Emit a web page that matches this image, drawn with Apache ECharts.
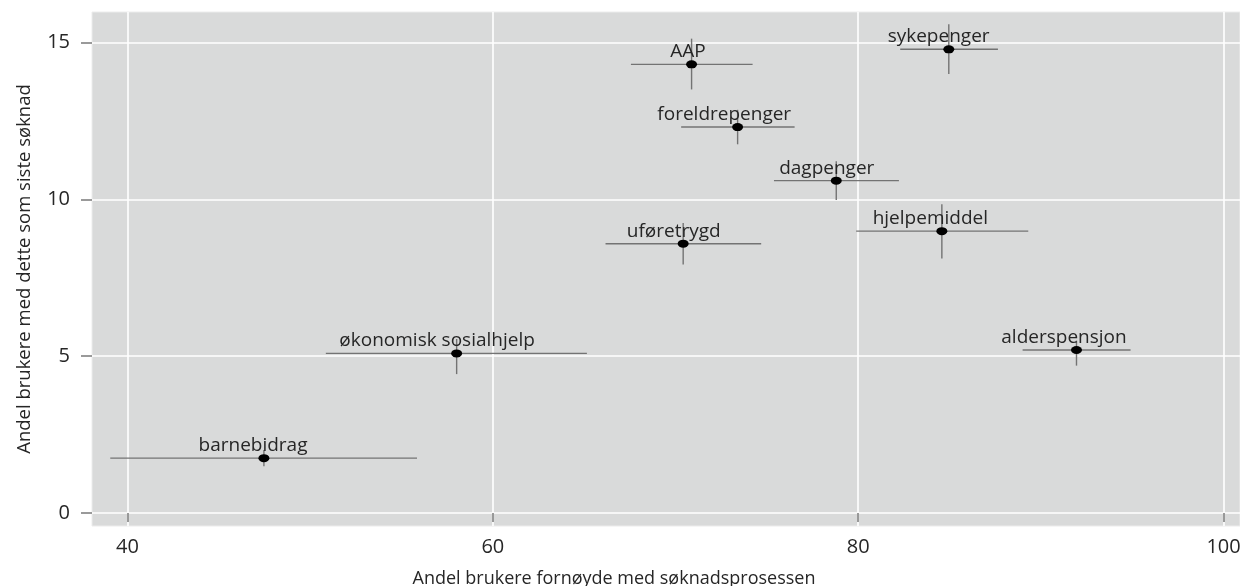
<!DOCTYPE html>
<html>
<head>
<meta charset="utf-8">
<script src="https://cdn.jsdelivr.net/npm/echarts@6/dist/echarts.min.js"></script>
<style>
html,body{margin:0;padding:0;background:#fff;}
#chart{width:1240px;height:586px;}
</style>
</head>
<body>
<div id="chart"></div>
<script>
// ---- data ----
const categories = ['AAP','sykepenger','foreldrepenger','dagpenger','hjelpemiddel','uføretrygd','økonomisk sosialhjelp','alderspensjon','barnebidrag'];
const satisfied     = [70.88, 84.96, 73.40, 78.80, 84.58, 70.42, 58.02, 91.95, 47.47];
const satisfiedLow  = [67.56, 82.30, 70.31, 75.39, 79.89, 66.17, 50.86, 89.00, 39.06];
const satisfiedHigh = [74.22, 87.65, 76.52, 82.23, 89.31, 74.69, 65.15, 94.91, 55.85];
const lastApp       = [14.31, 14.79, 12.31, 10.60, 8.99, 8.59, 5.09, 5.20, 1.75];
const lastAppLow    = [13.51, 14.00, 11.76, 9.98, 8.12, 7.93, 4.43, 4.70, 1.49];
const lastAppHigh   = [15.13, 15.59, 12.86, 11.22, 9.85, 9.25, 5.55, 5.50, 2.01];
const xTicks = [40, 60, 80, 100];
const yTicks = [0, 5, 10, 15];
const xTitle = 'Andel brukere fornøyde med søknadsprosessen';
const yTitle = 'Andel brukere med dette som siste søknad';

// ---- chart ----
const FONT = '"Open Sans", sans-serif';
const LABEL_SIZE = 19;
const TEXT_COLOR = '#262626';
const ctx = document.createElement('canvas').getContext('2d');
ctx.font = LABEL_SIZE + 'px ' + FONT;

const errData = categories.map((c, i) => [satisfied[i], lastApp[i], satisfiedLow[i], satisfiedHigh[i], lastAppLow[i], lastAppHigh[i]]);
const pointData = categories.map((c, i) => [satisfied[i], lastApp[i]]);
const labelData = categories.map((c, i) => [satisfied[i], lastApp[i], i]);

const chart = echarts.init(document.getElementById('chart'), null, { renderer: 'canvas' });
chart.setOption({
  animation: false,
  backgroundColor: '#ffffff',
  grid: {
    left: 92, right: 0, top: 12, bottom: 60,
    containLabel: false,
    outerBoundsMode: 'none',
    show: true, backgroundColor: '#d9dada', borderColor: '#ececec', borderWidth: 1
  },
  xAxis: {
    type: 'value',
    min: 38.06, max: 100.9,
    name: xTitle, nameLocation: 'middle', nameGap: 44,
    nameTextStyle: { fontFamily: FONT, fontSize: 18, color: TEXT_COLOR, padding: [0, 104, 0, 0] },
    axisLine: { show: false },
    axisTick: { show: true, length: 9, lineStyle: { color: '#7a7a7a', width: 1.5 }, customValues: xTicks },
    axisLabel: { customValues: xTicks, margin: 11, fontFamily: FONT, fontSize: 20, color: TEXT_COLOR, hideOverlap: false },
    splitLine: { show: true, lineStyle: { color: '#ffffff', width: 1.6 } }
  },
  yAxis: {
    type: 'value',
    min: -0.415, max: 15.98,
    name: yTitle, nameLocation: 'middle', nameGap: 58, nameRotate: 90,
    nameTextStyle: { fontFamily: FONT, fontSize: 18.5, color: TEXT_COLOR },
    axisLine: { show: false },
    axisTick: { show: true, length: 11, lineStyle: { color: '#7a7a7a', width: 1.5 }, customValues: yTicks },
    axisLabel: { customValues: yTicks, margin: 22, fontFamily: FONT, fontSize: 20, color: TEXT_COLOR },
    splitLine: { show: true, lineStyle: { color: '#ffffff', width: 1.6 } }
  },
  series: [
    {
      type: 'custom',
      data: errData,
      encode: { x: [0, 2, 3], y: [1, 4, 5] },
      z: 2,
      silent: true,
      renderItem: function (params, api) {
        const x = api.value(0), y = api.value(1);
        const a = api.coord([api.value(2), y]);
        const b = api.coord([api.value(3), y]);
        const c = api.coord([x, api.value(4)]);
        const d = api.coord([x, api.value(5)]);
        const st = { stroke: '#737373', lineWidth: 1.4 };
        return {
          type: 'group',
          children: [
            { type: 'line', shape: { x1: a[0], y1: a[1], x2: b[0], y2: b[1] }, style: st },
            { type: 'line', shape: { x1: c[0], y1: c[1], x2: d[0], y2: d[1] }, style: st }
          ]
        };
      }
    },
    {
      type: 'scatter',
      data: pointData,
      z: 3,
      symbol: 'circle',
      symbolSize: [11, 8],
      itemStyle: { color: '#000000', opacity: 1 },
      emphasis: { disabled: true },
      silent: true
    },
    {
      type: 'custom',
      data: labelData,
      encode: { x: 0, y: 1 },
      z: 4,
      silent: true,
      renderItem: function (params, api) {
        const p = api.coord([api.value(0), api.value(1)]);
        const txt = categories[api.value(2)];
        const w = ctx.measureText(txt).width;
        return {
          type: 'text',
          x: p[0] - 0.6 * w,
          y: p[1] - 12.5,
          style: {
            text: txt,
            textAlign: 'left',
            textVerticalAlign: 'middle',
            font: LABEL_SIZE + 'px ' + FONT,
            fill: TEXT_COLOR
          }
        };
      }
    }
  ]
});
</script>
</body>
</html>
